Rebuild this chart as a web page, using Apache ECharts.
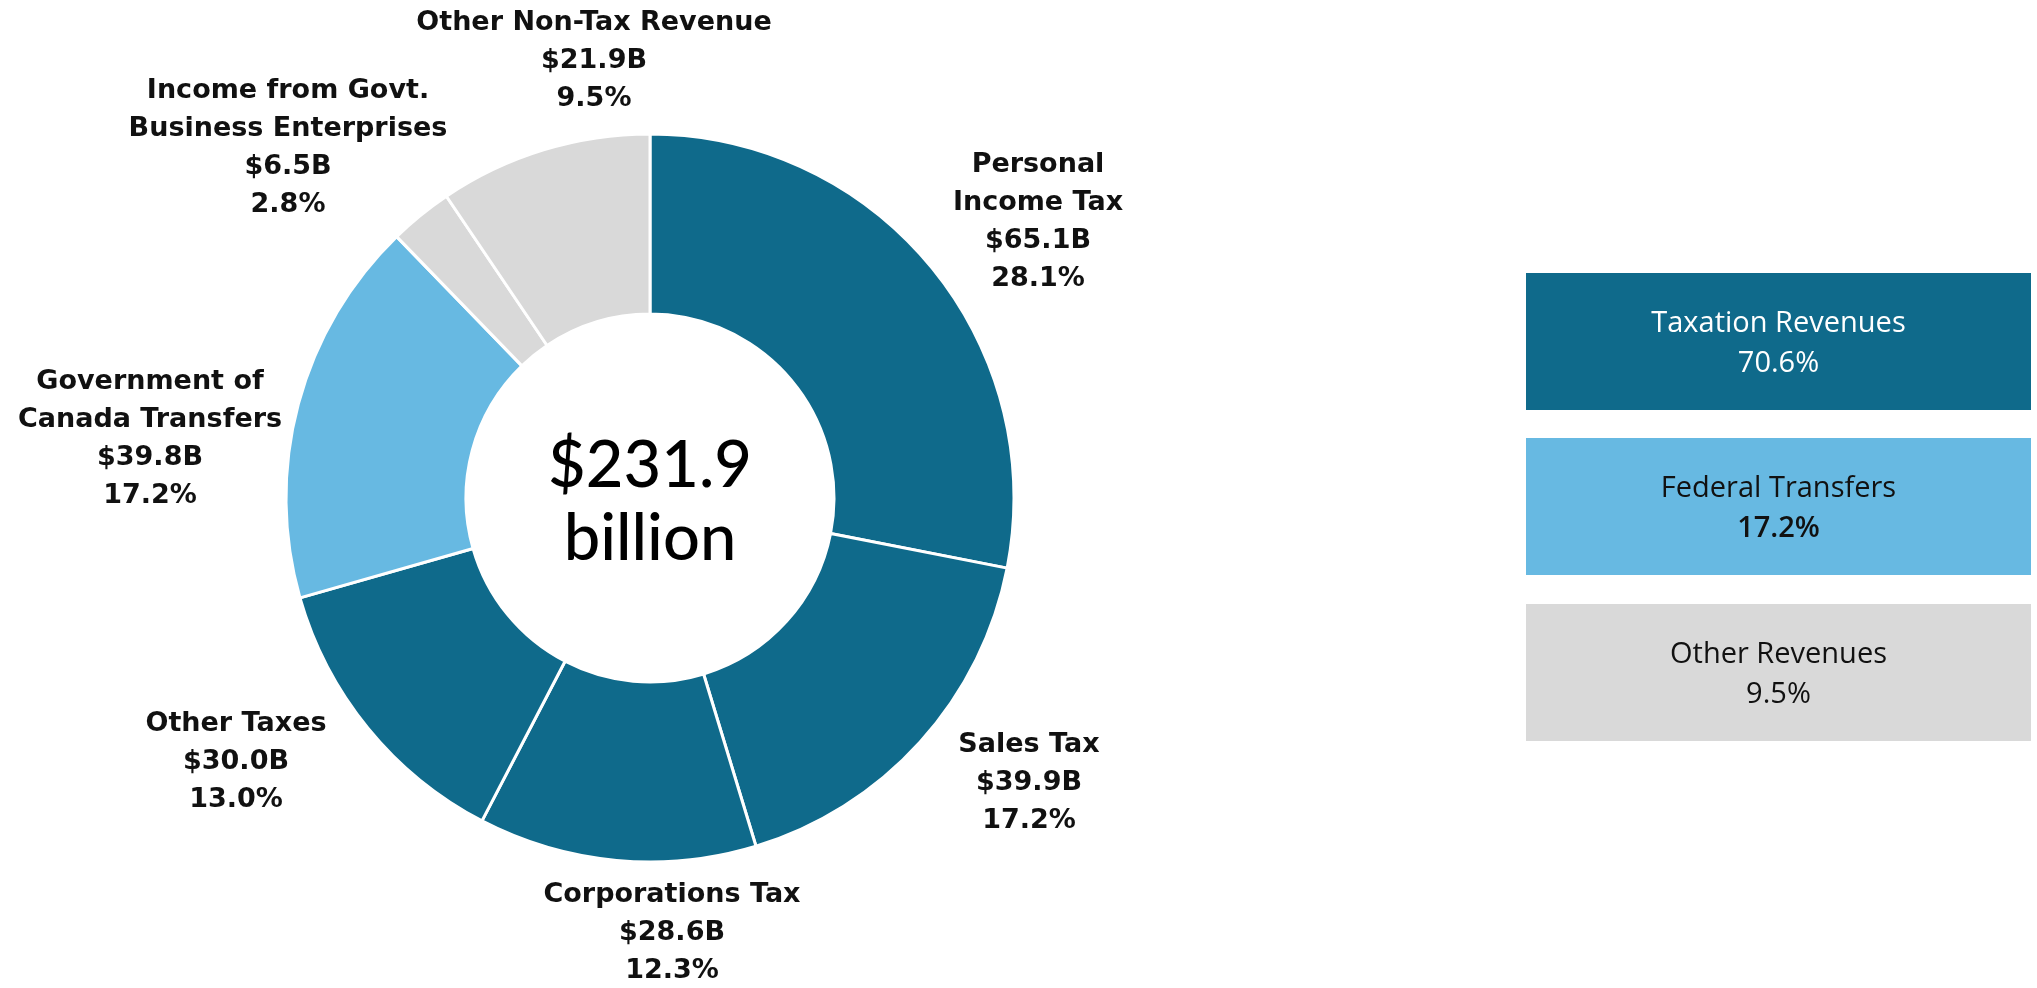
<!DOCTYPE html>
<html>
<head>
<meta charset="utf-8">
<script src="https://cdn.jsdelivr.net/npm/echarts@6/dist/echarts.min.js"></script>
<style>
html,body{margin:0;padding:0;background:#fff;}
#chart{width:2037px;height:988px;}
</style>
</head>
<body>
<div id="chart"></div>
<script>
// ---- data ----
const categories = [
  'Personal\nIncome Tax',
  'Sales Tax',
  'Corporations Tax',
  'Other Taxes',
  'Government of\nCanada Transfers',
  'Income from Govt.\nBusiness Enterprises',
  'Other Non-Tax Revenue'
];
const valuesB = [65.1, 39.9, 28.6, 30.0, 39.8, 6.5, 21.9];
const sharePct = ['28.1%', '17.2%', '12.3%', '13.0%', '17.2%', '2.8%', '9.5%'];
const groupOf = ['tax', 'tax', 'tax', 'tax', 'fed', 'other', 'other'];
const totalText = ['$231.9', 'billion'];
const groupNames = ['Taxation Revenues', 'Federal Transfers', 'Other Revenues'];
const groupPcts = ['70.6%', '17.2%', '9.5%'];

// ---- styles / layout ----
const colors = { tax: '#0F6A8B', fed: '#67B9E2', other: '#D9D9D9' };
const boxColors = ['#0F6A8B', '#67B9E2', '#D9D9D9'];
const boxTextColors = ['#ffffff', '#111111', '#111111'];
const boxPctWeights = ['normal', '600', 'normal'];
const pieCenter = [650, 498];
// label block centres (layout only)
const labelAnchors = [
  [1038, 222], [1029, 783], [672, 933], [236, 762], [150, 439], [288, 148], [594, 61]
];

const chart = echarts.init(document.getElementById('chart'), null, { renderer: 'canvas' });

const pieData = categories.map((c, i) => ({
  name: c,
  value: valuesB[i],
  itemStyle: { color: colors[groupOf[i]] }
}));

const boxGraphics = [];
const boxX = 1526, boxW = 505, boxH = 137, boxTops = [273, 438, 604];
groupNames.forEach((g, i) => {
  boxGraphics.push({
    type: 'rect',
    shape: { x: boxX, y: boxTops[i], width: boxW, height: boxH },
    style: { fill: boxColors[i] },
    silent: true
  });
  boxGraphics.push({
    type: 'text',
    x: boxX + boxW / 2,
    y: boxTops[i] + boxH / 2 + 2,
    style: {
      text: '{n|' + g + '}\n{p|' + groupPcts[i] + '}',
      align: 'center',
      verticalAlign: 'middle',
      rich: {
        n: { fill: boxTextColors[i], fontFamily: 'Open Sans', fontSize: 29, lineHeight: 40, align: 'center' },
        p: { fill: boxTextColors[i], fontFamily: 'Open Sans', fontSize: 29, fontWeight: boxPctWeights[i], lineHeight: 40, align: 'center' }
      }
    },
    silent: true
  });
});

chart.setOption({
  animation: false,
  backgroundColor: '#ffffff',
  series: [{
    type: 'pie',
    center: pieCenter,
    radius: [184, 364],
    startAngle: 90,
    clockwise: true,
    avoidLabelOverlap: false,
    itemStyle: { borderColor: '#ffffff', borderWidth: 3 },
    label: {
      show: true,
      position: 'outside',
      formatter: p => p.name + '\n$' + valuesB[p.dataIndex].toFixed(1) + 'B\n' + sharePct[p.dataIndex],
      fontFamily: 'DejaVu Sans',
      fontWeight: 'bold',
      fontSize: 27,
      lineHeight: 38,
      color: '#111111',
      align: 'center'
    },
    labelLine: { show: false },
    labelLayout: params => {
      const a = labelAnchors[params.dataIndex];
      return { x: a[0], y: a[1], align: 'center', verticalAlign: 'middle' };
    },
    emphasis: { disabled: true },
    data: pieData
  }],
  graphic: [
    {
      type: 'text',
      x: pieCenter[0],
      y: pieCenter[1] + 5,
      style: {
        text: totalText.join('\n'),
        font: '500 65px Lato',
        lineHeight: 73,
        fill: '#000000',
        align: 'center',
        verticalAlign: 'middle'
      },
      silent: true
    }
  ].concat(boxGraphics)
});
</script>
</body>
</html>
